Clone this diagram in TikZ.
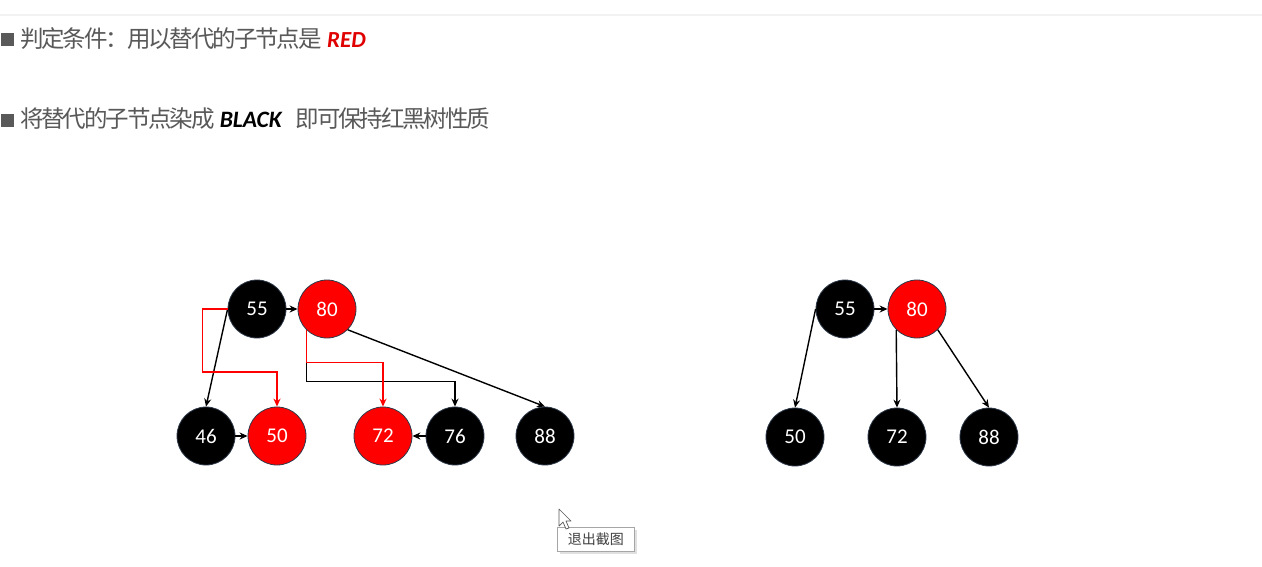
\documentclass[tikz,border=0pt]{standalone}
\usepackage{fontspec}
\setmainfont{Carlito}
\newfontfamily\cjk{Noto Sans CJK SC}
\newfontfamily\cjkhead[LetterSpace=-9]{Noto Sans CJK SC}
\usetikzlibrary{arrows.meta}
\definecolor{txtgray}{HTML}{595959}
\definecolor{rbred}{HTML}{FF0000}
\definecolor{redtxt}{HTML}{E00000}
\definecolor{rim}{HTML}{2E3A4A}
\begin{document}
\begin{tikzpicture}[x=1pt,y=-1pt,
  rb/.style={circle, minimum size=58pt, inner sep=0pt, draw=rim, line width=0.8pt, text=white, font=\fontsize{21}{21}\selectfont},
  bnode/.style={rb, fill=black},
  rnode/.style={rb, fill=rbred},
  link/.style={line width=1.4pt, -{Stealth[length=8pt,width=7pt]}},
  rlink/.style={link, draw=rbred, -{Stealth[length=8pt,width=7pt]}},
  bullet/.style={fill=txtgray, draw=none, minimum size=13pt, inner sep=0pt},
  headline/.style={anchor=base west, inner sep=0pt, text=txtgray, font=\fontsize{23.5}{24}\cjkhead}
]
\useasboundingbox (0,0) rectangle (1262,566);
\fill[white] (0,0) rectangle (1262,566);
\draw[line width=1.5pt, black!5] (0,15) -- (1262,15);

% bullets and text
\node[bullet] (b1) at (7.5,39.5) {};
\node[bullet] (b2) at (7.5,120) {};
\node[headline] (t1) at (20,47.5) {判定条件：用以替代的子节点是\hspace{5.5pt}{\color{redtxt}\fontsize{23}{23}\fontspec{Carlito}\bfseries\itshape RED}};
\node[headline] (t2) at (20,127.5) {将替代的子节点染成\hspace{5pt}{\color{black}\fontsize{23.5}{23}\fontspec{Carlito}\bfseries\itshape BLACK}\hspace{14pt}即可保持红黑树性质};

% left tree
\node[bnode] (L55) at (257,309) {55};
\node[rnode] (L80) at (327,309) {80};
\node[bnode] (L46) at (206,436) {46};
\node[rnode] (L50) at (277,436) {50};
\node[rnode] (L72) at (383,436) {72};
\node[bnode] (L76) at (455,436) {76};
\node[bnode] (L88) at (545,436) {88};

\draw[link] (L55) -- (L80);
\draw[link] (L55.west) -- (L46.north);
\draw[link] (L46) -- (L50);
\draw[link] (L76) -- (L72);
\draw[link] (L80.south east) -- (L88.north);
\draw[link] (L80.south west) -- ++(0,52) -| (L76.north);
\draw[rlink] (L80.south west) -- ++(0,33) -| (L72.north);
\draw[rlink] (L55.west) -- ++(-25,0) -- ++(0,63) -| (L50.north);

% right tree
\node[bnode] (R55) at (845,309) {55};
\node[rnode] (R80) at (917,309) {80};
\node[bnode] (R50) at (795,437) {50};
\node[bnode] (R72) at (897,437) {72};
\node[bnode] (R88) at (989,437) {88};

\draw[link] (R55) -- (R80);
\draw[link] (R55.west) -- (R50.north);
\draw[link] (R80.south west) -- (R72.north);
\draw[link] (R80.south east) -- (R88.north);

% tooltip and cursor
\fill[black!12] (560,530) rectangle (637,554);
\node[draw=black!35, fill=white, line width=0.6pt, minimum width=77pt, minimum height=24pt, inner sep=0pt, anchor=north west, text=black!75, font=\fontsize{14}{14}\cjk] (tip) at (557,527) {退出截图};
\draw[fill=white, draw=black!65, line width=0.7pt, line join=round]
  (559,509) -- (559,526) -- (563,522) -- (566,529) -- (569,528) -- (566,521) -- (571,521) -- cycle;
\end{tikzpicture}
\end{document}
